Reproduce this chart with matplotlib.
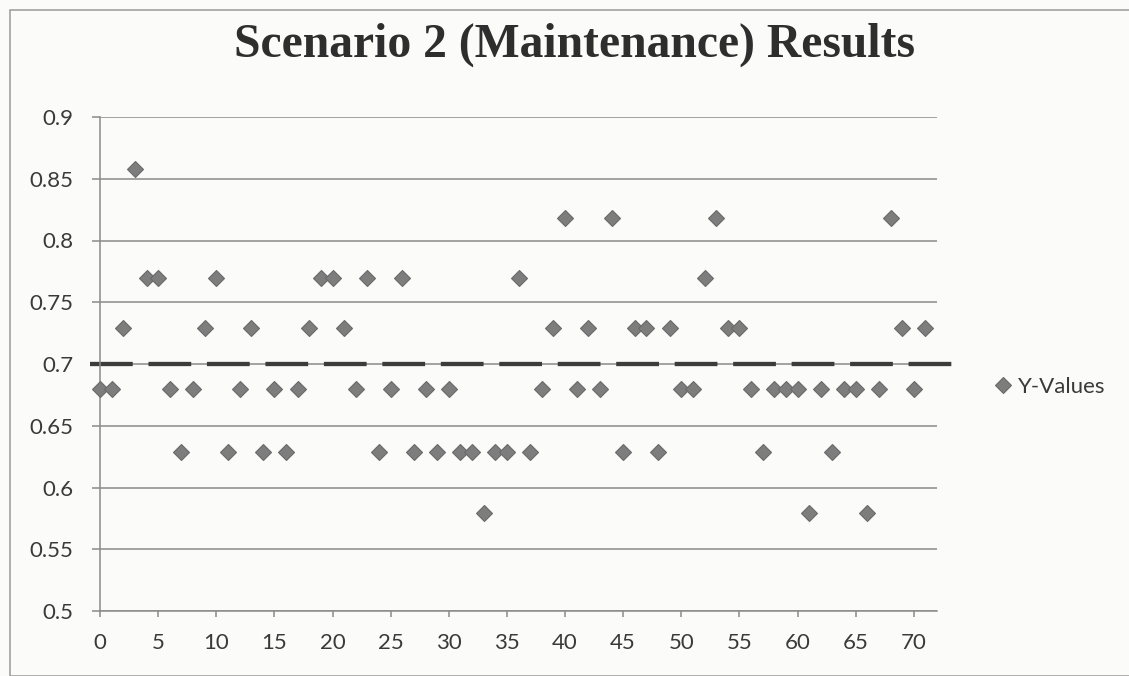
import matplotlib
matplotlib.use("Agg")
import matplotlib.pyplot as plt
from matplotlib.patches import Rectangle
from matplotlib.ticker import FormatStrFormatter

# participant index and score
x_vals = list(range(72))
y_vals = [0.680, 0.680, 0.729, 0.858, 0.770, 0.770, 0.680, 0.629, 0.680, 0.729,
          0.770, 0.629, 0.680, 0.729, 0.629, 0.680, 0.629, 0.680, 0.729, 0.770,
          0.770, 0.729, 0.680, 0.770, 0.629, 0.680, 0.770, 0.629, 0.680, 0.629,
          0.680, 0.629, 0.629, 0.579, 0.629, 0.629, 0.770, 0.629, 0.680, 0.729,
          0.818, 0.680, 0.729, 0.680, 0.818, 0.629, 0.729, 0.729, 0.629, 0.729,
          0.680, 0.680, 0.770, 0.818, 0.729, 0.729, 0.680, 0.629, 0.680, 0.680,
          0.680, 0.579, 0.680, 0.629, 0.680, 0.680, 0.579, 0.680, 0.818, 0.729,
          0.680, 0.729]
ref_level = 0.7
ref_span = [-0.86, 73.3]

title = "Scenario 2 (Maintenance) Results"
series_name = "Y-Values"

bg = "#fbfcf9"
grid_col = "#8a8a8a"
text_col = "#3a3a3a"

fig = plt.figure(figsize=(11.29, 6.76), dpi=100, facecolor=bg)
ax = fig.add_axes([100 / 1129, 1 - 611 / 676, 837 / 1129, 494 / 676])
ax.set_facecolor(bg)

# outer chart frame
fig.patches.append(Rectangle((10 / 1129, 0.5 / 676), 1.2, 1 - 10.5 / 676,
                             transform=fig.transFigure, fill=False,
                             edgecolor="#9a9a9a", linewidth=1.1))

ax.set_xlim(0, 72)
ax.set_ylim(0.5, 0.9)
ax.set_xticks(range(0, 71, 5))
ax.set_yticks([0.5, 0.55, 0.6, 0.65, 0.7, 0.75, 0.8, 0.85, 0.9])
ax.yaxis.set_major_formatter(FormatStrFormatter("%g"))

ax.grid(axis="y", color=grid_col, linewidth=1.1)
ax.set_axisbelow(True)
for side in ["top", "right"]:
    ax.spines[side].set_visible(False)
ax.spines["left"].set_color(grid_col)
ax.spines["bottom"].set_color(grid_col)
ax.spines["left"].set_linewidth(1.1)
ax.spines["bottom"].set_linewidth(1.1)

ax.tick_params(axis="y", length=6, width=1.1, color=grid_col, pad=13,
               labelsize=16, labelcolor=text_col)
ax.tick_params(axis="x", length=4.5, width=1.1, color=grid_col, pad=11,
               labelsize=16, labelcolor=text_col)
for lab in ax.get_xticklabels() + ax.get_yticklabels():
    lab.set_family("Lato")

# dashed reference line at 0.7
ax.plot(ref_span, [ref_level, ref_level], color="#3c3c3c", linewidth=3.1,
        dashes=(9.93, 3.65), solid_capstyle="butt", dash_capstyle="butt",
        clip_on=False, zorder=2)

ax.plot(x_vals, y_vals, linestyle="none", marker="D", markersize=8.6,
        markerfacecolor="#7d7d7d", markeredgecolor="#6a6a6a",
        markeredgewidth=0.8, clip_on=False, zorder=3, label=series_name)

leg = ax.legend(loc="center left", bbox_to_anchor=(992.6 / 837 - 100 / 837, (611 - 387) / 494),
                frameon=False, numpoints=1, handlelength=0.95, handletextpad=0.2,
                borderpad=0, borderaxespad=0, prop={"family": "Lato", "size": 16})
for t in leg.get_texts():
    t.set_color(text_col)

fig.text(0.5 * (234 + 914) / 1129, 1 - 45 / 676, title, ha="center", va="center",
         family="Liberation Serif", fontweight="bold", fontsize=34.3, color="#2e2e2e")

fig.savefig("out.png", dpi=100, facecolor=bg)
